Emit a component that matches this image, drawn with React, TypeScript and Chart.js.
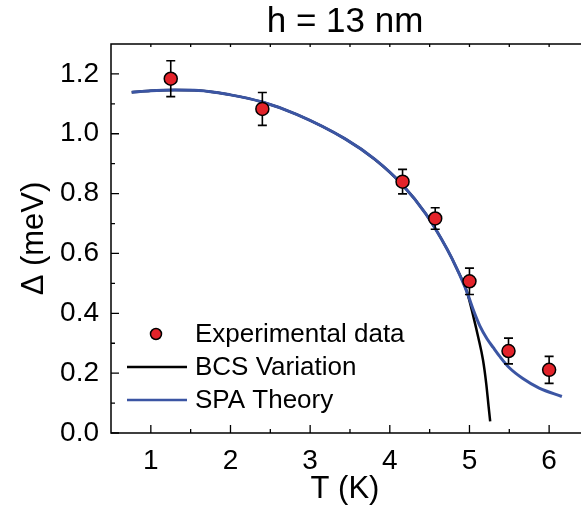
import React, { useEffect, useRef } from 'react';
import { Chart, registerables } from 'chart.js';

Chart.register(...registerables);

// ---- data ----
const expT = [1.25, 2.40, 4.16, 4.57, 5.00, 5.49, 6.00];
const expGap = [1.184, 1.083, 0.840, 0.717, 0.507, 0.274, 0.211];
const expErr = [0.060, 0.055, 0.041, 0.036, 0.044, 0.043, 0.045];

const spaT = [0.76, 1.0, 1.3, 1.6, 2.0, 2.4, 2.83, 3.44, 3.81, 4.16, 4.45, 4.72, 4.84, 4.97, 5.05, 5.13, 5.22, 5.30, 5.38, 5.50, 5.67, 5.875, 6.16];
const spaGap = [1.139, 1.144, 1.146, 1.145, 1.13, 1.106, 1.065, 0.983, 0.915, 0.829, 0.733, 0.614, 0.55, 0.47, 0.41, 0.358, 0.315, 0.285, 0.256, 0.218, 0.182, 0.150, 0.122];

const bcsT = [0.76, 1.0, 1.3, 1.6, 2.0, 2.4, 2.83, 3.44, 3.81, 4.16, 4.45, 4.72, 4.84, 4.97, 5.05, 5.11, 5.17, 5.21, 5.24, 5.26];
const bcsGap = [1.139, 1.144, 1.146, 1.145, 1.13, 1.106, 1.065, 0.983, 0.915, 0.829, 0.733, 0.614, 0.55, 0.47, 0.388, 0.32, 0.244, 0.166, 0.089, 0.039];

const xTicks = [1, 2, 3, 4, 5, 6];
const xMinorTicks = [1.5, 2.5, 3.5, 4.5, 5.5];
const yTicks = [0, 0.2, 0.4, 0.6, 0.8, 1.0, 1.2];
const yMinorTicks = [0.1, 0.3, 0.5, 0.7, 0.9, 1.1];

const titleText = 'h = 13 nm';
const xTitle = 'T (K)';
const yTitle = '\u0394 (meV)';
const legendLabels = ['Experimental data', 'BCS Variation', 'SPA Theory'];

const FONT = '"Liberation Sans", Arial, Helvetica, sans-serif';
const RED = '#e3232a';
const BLUE = '#3b55a3';
const BLACK = '#000000';

const decorPlugin = {
  id: 'decor',
  beforeDatasetDraw(chart: any, args: any) {
    if (args.index !== 0) return;
    const ctx = chart.ctx;
    const xs = chart.scales.x;
    const ys = chart.scales.y;
    ctx.save();
    ctx.strokeStyle = BLACK;
    ctx.lineWidth = 1.6;
    for (let i = 0; i < expT.length; i++) {
      const px = xs.getPixelForValue(expT[i]);
      const top = ys.getPixelForValue(expGap[i] + expErr[i]);
      const bot = ys.getPixelForValue(expGap[i] - expErr[i]);
      ctx.beginPath();
      ctx.moveTo(px, top);
      ctx.lineTo(px, bot);
      ctx.moveTo(px - 4.5, top);
      ctx.lineTo(px + 4.5, top);
      ctx.moveTo(px - 4.5, bot);
      ctx.lineTo(px + 4.5, bot);
      ctx.stroke();
    }
    ctx.restore();
  },
  afterDraw(chart: any) {
    const ctx = chart.ctx;
    const { left, right, top, bottom } = chart.chartArea;
    const xs = chart.scales.x;
    const ys = chart.scales.y;
    ctx.save();
    // frame (left, bottom, top)
    ctx.strokeStyle = BLACK;
    ctx.lineWidth = 1.5;
    ctx.beginPath();
    ctx.moveTo(right + 2, top);
    ctx.lineTo(left, top);
    ctx.lineTo(left, bottom);
    ctx.lineTo(right + 2, bottom);
    ctx.stroke();
    // ticks (inward)
    ctx.lineWidth = 1.3;
    ctx.beginPath();
    xTicks.forEach((v) => {
      const p = xs.getPixelForValue(v);
      ctx.moveTo(p, bottom);
      ctx.lineTo(p, bottom - 8);
      ctx.moveTo(p, top);
      ctx.lineTo(p, top + 3);
    });
    xMinorTicks.forEach((v) => {
      const p = xs.getPixelForValue(v);
      ctx.moveTo(p, bottom);
      ctx.lineTo(p, bottom - 4);
      ctx.moveTo(p, top);
      ctx.lineTo(p, top + 3);
    });
    yTicks.forEach((v) => {
      const p = ys.getPixelForValue(v);
      ctx.moveTo(left, p);
      ctx.lineTo(left + 8, p);
    });
    yMinorTicks.forEach((v) => {
      const p = ys.getPixelForValue(v);
      ctx.moveTo(left, p);
      ctx.lineTo(left + 4, p);
    });
    ctx.stroke();

    // title
    ctx.fillStyle = BLACK;
    ctx.font = `35px ${FONT}`;
    ctx.textAlign = 'center';
    ctx.textBaseline = 'middle';
    ctx.fillText(titleText, (left + right) / 2, 22);

    // legend
    const ds = chart.data.datasets;
    ctx.font = `26px ${FONT}`;
    ctx.textAlign = 'left';
    ctx.textBaseline = 'middle';
    const rows = [334, 367, 400];
    ctx.beginPath();
    ctx.arc(156, rows[0], 5.5, 0, Math.PI * 2);
    ctx.fillStyle = ds[0].backgroundColor;
    ctx.fill();
    ctx.lineWidth = 1.5;
    ctx.strokeStyle = BLACK;
    ctx.stroke();
    ctx.lineWidth = 2.5;
    ctx.strokeStyle = ds[2].borderColor;
    ctx.beginPath();
    ctx.moveTo(127, rows[1]);
    ctx.lineTo(187, rows[1]);
    ctx.stroke();
    ctx.strokeStyle = ds[1].borderColor;
    ctx.beginPath();
    ctx.moveTo(127, rows[2]);
    ctx.lineTo(187, rows[2]);
    ctx.stroke();
    ctx.fillStyle = BLACK;
    ctx.fillText(legendLabels[0], 195, rows[0] + 1);
    ctx.fillText(legendLabels[1], 195, rows[1] + 1);
    ctx.fillText(legendLabels[2], 195, rows[2] + 1);
    ctx.restore();
  },
};

export default function App() {
  const ref = useRef<HTMLCanvasElement | null>(null);
  useEffect(() => {
    if (!ref.current) return;
    const chart = new Chart(ref.current, {
      type: 'scatter',
      data: {
        datasets: [
          {
            label: legendLabels[0],
            data: expT.map((t, i) => ({ x: t, y: expGap[i] })),
            backgroundColor: RED,
            borderColor: BLACK,
            borderWidth: 1.5,
            pointRadius: 6.5,
            showLine: false,
          },
          {
            label: legendLabels[2],
            data: spaT.map((t, i) => ({ x: t, y: spaGap[i] })),
            showLine: true,
            borderColor: BLUE,
            borderWidth: 3,
            pointRadius: 0,
            cubicInterpolationMode: 'monotone',
            fill: false,
          },
          {
            label: legendLabels[1],
            data: bcsT.map((t, i) => ({ x: t, y: bcsGap[i] })),
            showLine: true,
            borderColor: BLACK,
            borderWidth: 2.5,
            pointRadius: 0,
            cubicInterpolationMode: 'monotone',
            fill: false,
          },
        ],
      },
      options: {
        animation: false,
        responsive: false,
        devicePixelRatio: 1,
        layout: { padding: { left: 0, right: 0, top: 44, bottom: 0 } },
        plugins: {
          legend: { display: false },
          tooltip: { enabled: false },
          title: { display: false },
        },
        scales: {
          x: {
            type: 'linear',
            min: 0.5,
            max: 6.375,
            grid: { display: false, drawTicks: false },
            border: { display: false },
            afterBuildTicks: (s: any) => {
              s.ticks = xTicks.map((v) => ({ value: v }));
            },
            afterFit: (s: any) => {
              s.height = 72;
            },
            ticks: {
              color: BLACK,
              font: { family: FONT, size: 28 },
              padding: 11,
              maxRotation: 0,
              callback: (v: any) => String(v),
            },
            title: {
              display: true,
              text: xTitle,
              color: BLACK,
              font: { family: FONT, size: 31, lineHeight: 1 },
              padding: { top: 0, bottom: 0 },
            },
          },
          y: {
            type: 'linear',
            min: 0,
            max: 1.3,
            grid: { display: false, drawTicks: false },
            border: { display: false },
            afterBuildTicks: (s: any) => {
              s.ticks = yTicks.map((v) => ({ value: v }));
            },
            afterFit: (s: any) => {
              s.width = 111;
            },
            ticks: {
              color: BLACK,
              font: { family: FONT, size: 28 },
              padding: 12,
              callback: (v: any) => Number(v).toFixed(1),
            },
            title: {
              display: true,
              text: yTitle,
              color: BLACK,
              font: { family: FONT, size: 31, lineHeight: 1 },
              padding: { top: 19, bottom: 0 },
            },
          },
        },
      },
      plugins: [decorPlugin],
    } as any);
    return () => chart.destroy();
  }, []);
  return (
    <div style={{ position: 'fixed', left: 0, top: 0, width: 587, height: 505, background: '#fff' }}>
      <canvas ref={ref} width={587} height={505} style={{ display: 'block', width: 587, height: 505 }} />
    </div>
  );
}
